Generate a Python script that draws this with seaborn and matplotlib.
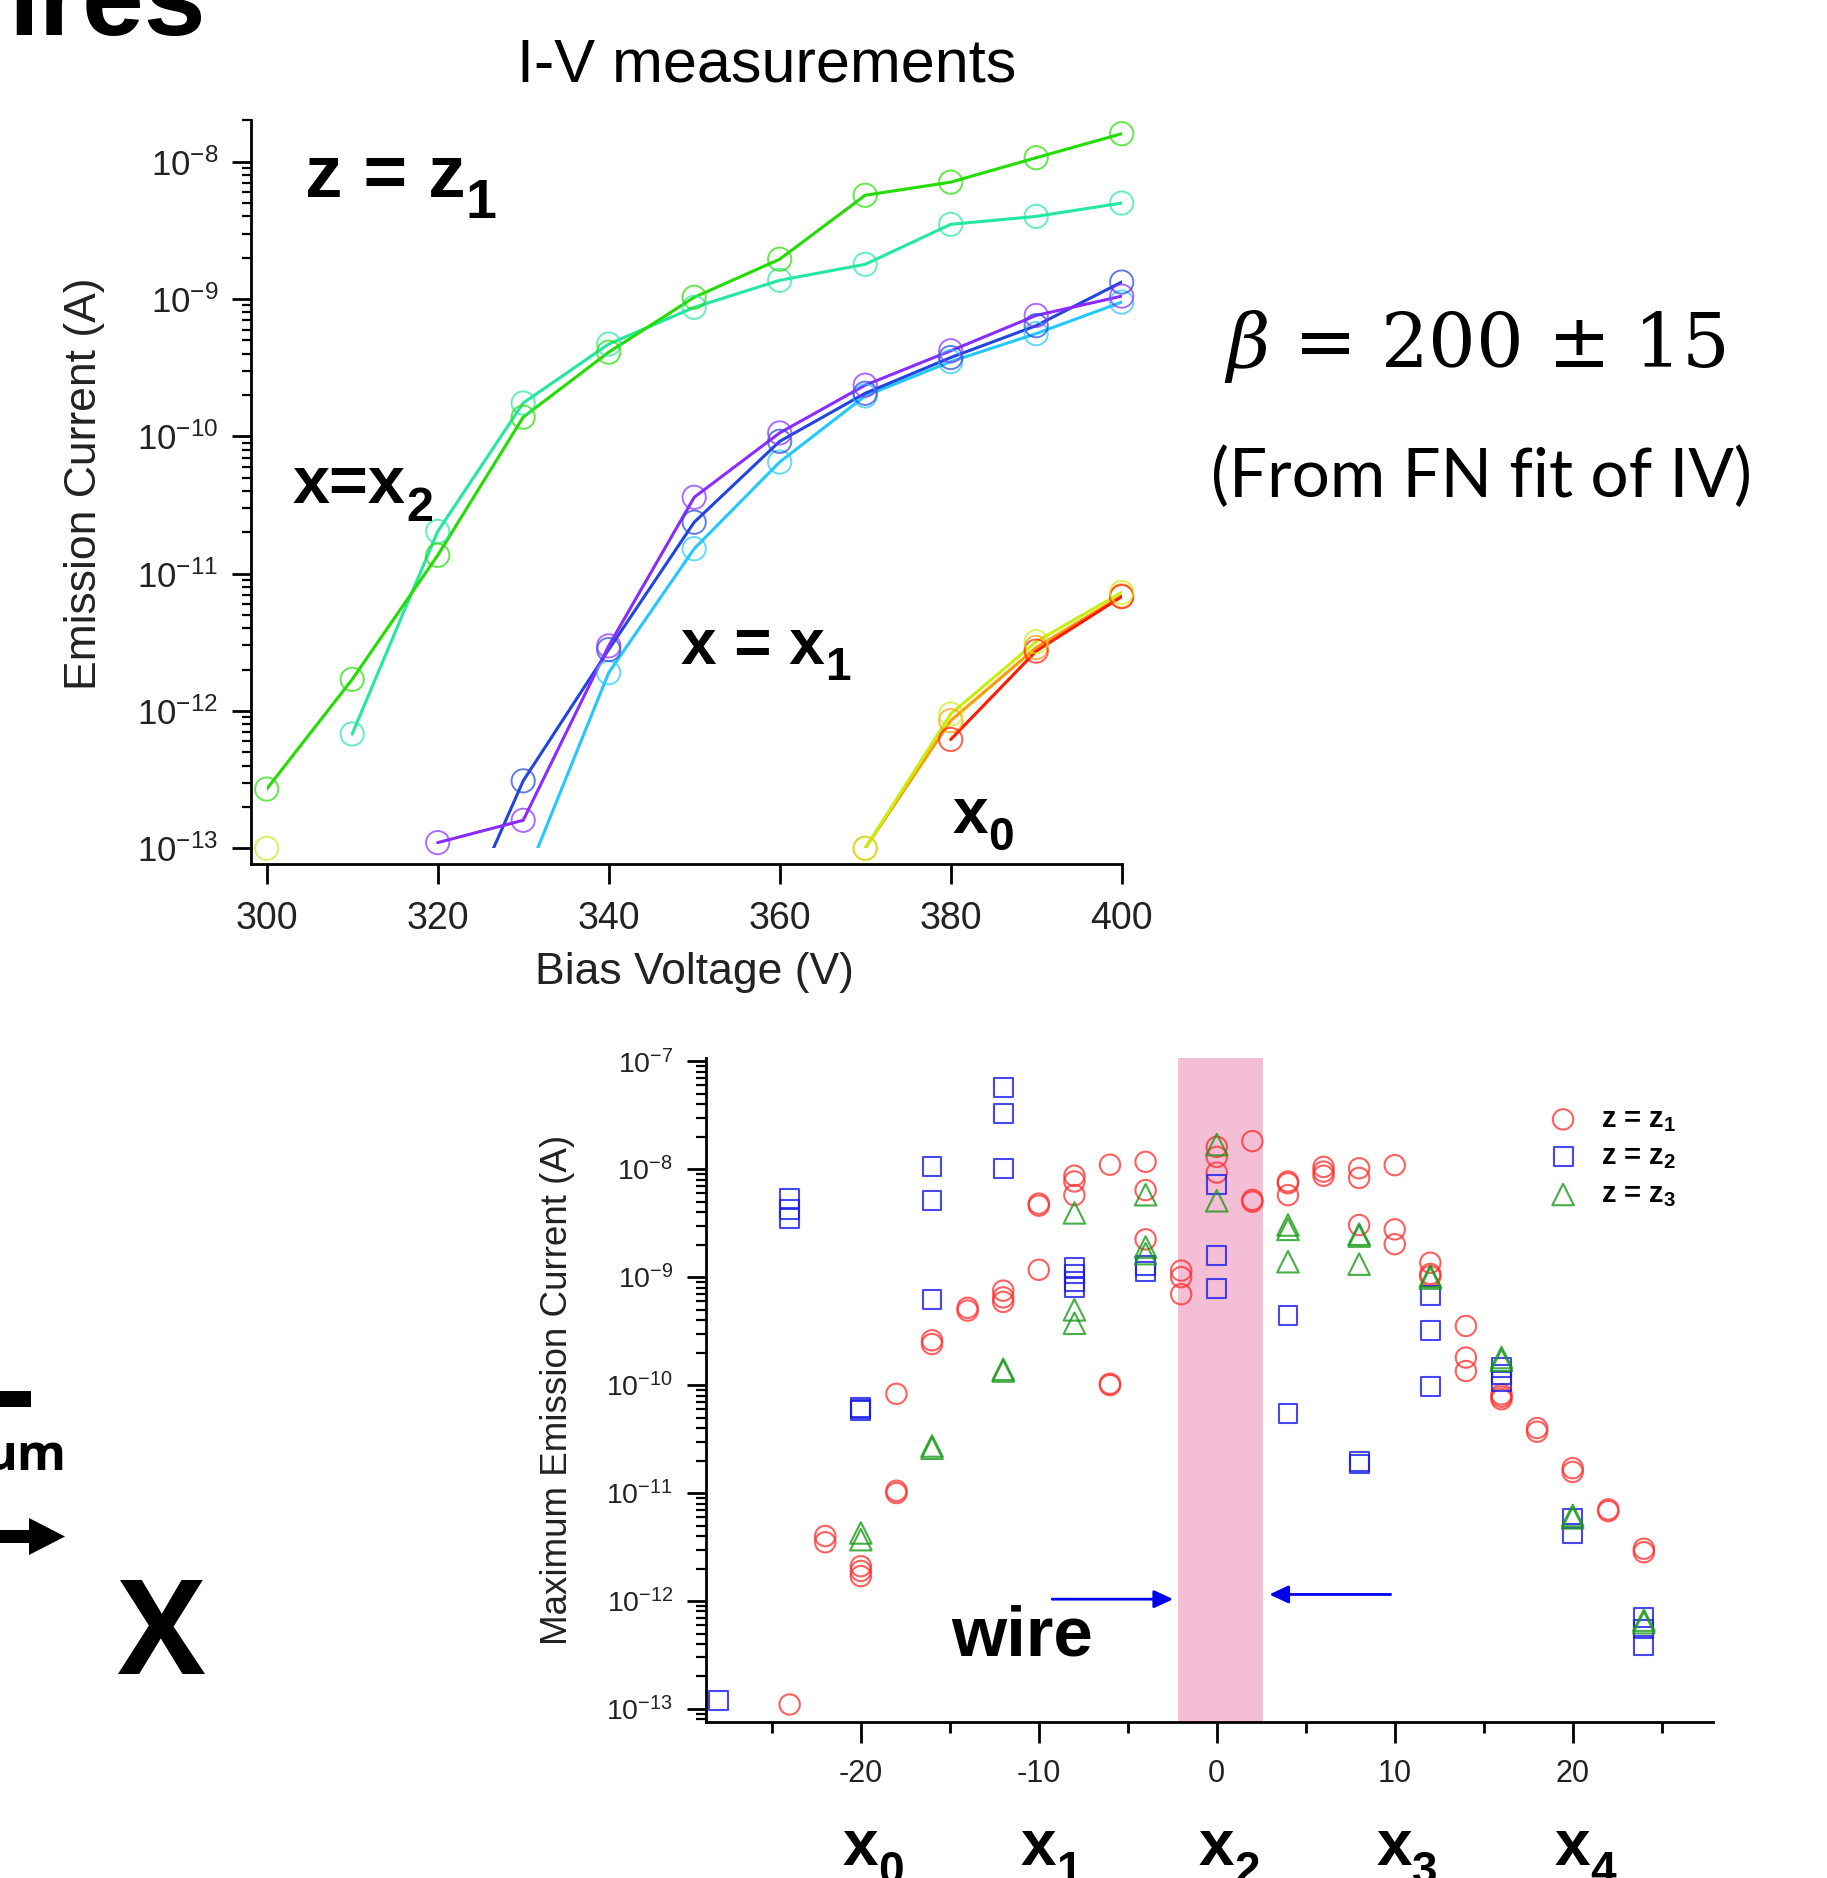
import numpy as np
import pandas as pd
import matplotlib.pyplot as plt
import seaborn as sns
from matplotlib.ticker import FixedLocator, LogLocator, MultipleLocator, FuncFormatter, NullFormatter
from matplotlib.patches import Rectangle, FancyArrow
from matplotlib.text import Annotation
from matplotlib.transforms import blended_transform_factory

# ---------------- top panel: I-V measurements ----------------
bias_v = [300, 310, 320, 330, 340, 350, 360, 370, 380, 390, 400]
nan = np.nan
iv_green = [2.7e-13, 1.7e-12, 1.36e-11, 1.38e-10, 4.1e-10, 1.03e-9, 1.95e-9, 5.7e-9, 7.1e-9, 1.07e-8, 1.6e-8]
iv_teal = [nan, 6.8e-13, 2.03e-11, 1.75e-10, 4.7e-10, 8.7e-10, 1.37e-9, 1.79e-9, 3.5e-9, 4.0e-9, 5.0e-9]
iv_cyan = [nan, nan, nan, 5.5e-14, 1.9e-12, 1.52e-11, 6.5e-11, 1.97e-10, 3.5e-10, 5.6e-10, 9.5e-10]
iv_blue = [nan, nan, 1.2e-14, 3.1e-13, 2.8e-12, 2.37e-11, 9.2e-11, 2.06e-10, 3.75e-10, 6.4e-10, 1.33e-9]
iv_purple = [nan, nan, 1.1e-13, 1.6e-13, 2.98e-12, 3.6e-11, 1.06e-10, 2.36e-10, 4.2e-10, 7.6e-10, 1.05e-9]
iv_orange = [nan, nan, nan, nan, nan, nan, nan, 1.0e-13, 8.5e-13, 2.9e-12, 6.9e-12]
iv_red = [nan, nan, nan, nan, nan, nan, nan, nan, 6.2e-13, 2.73e-12, 6.8e-12]
iv_yellow = [nan, nan, nan, nan, nan, nan, nan, 1.0e-13, 9.5e-13, 3.2e-12, 7.3e-12]
iv_lone_v = [300]
iv_lone_i = [1.0e-13]

iv_colors = {
    "green": "#22dd00", "teal": "#22e8a0", "cyan": "#22c8ff", "blue": "#2244e0",
    "purple": "#8a2cff", "orange": "#ff9a00", "red": "#ff1a00", "yellow": "#c8ee10",
}
iv_series = [("teal", iv_teal), ("green", iv_green), ("cyan", iv_cyan), ("blue", iv_blue),
             ("purple", iv_purple), ("orange", iv_orange), ("red", iv_red), ("yellow", iv_yellow)]

# ---------------- bottom panel: max emission current vs position ----------------
z1_pos = [-24, -22, -22, -20, -20, -20, -18, -18, -18, -16, -16, -14, -14, -12, -12, -12,
          -10, -10, -10, -8, -8, -8, -6, -6, -6, -4, -4, -4, -2, -2, -2, 0, 0, 0,
          2, 2, 2, 4, 4, 4, 6, 6, 6, 8, 8, 8, 10, 10, 10, 12, 12, 12, 14, 14, 14,
          16, 16, 16, 18, 18, 20, 20, 22, 22, 24, 24]
z1_cur = [1.1e-13, 4.0e-12, 3.5e-12, 2.1e-12, 1.9e-12, 1.7e-12, 8.3e-11, 1.05e-11, 1.0e-11,
          2.6e-10, 2.4e-10, 5.2e-10, 4.9e-10, 7.5e-10, 6.5e-10, 5.9e-10,
          4.8e-9, 4.6e-9, 1.17e-9, 8.7e-9, 7.7e-9, 5.75e-9, 1.1e-8, 1.03e-10, 1.0e-10,
          1.17e-8, 6.4e-9, 2.24e-9, 1.15e-9, 1.0e-9, 6.95e-10, 1.61e-8, 1.3e-8, 9.3e-9,
          1.82e-8, 5.2e-9, 5.0e-9, 7.7e-9, 7.4e-9, 5.75e-9, 1.05e-8, 9.5e-9, 8.7e-9,
          1.02e-8, 8.3e-9, 3.04e-9, 1.09e-8, 2.77e-9, 2.02e-9, 1.36e-9, 1.07e-9, 1.02e-9,
          3.53e-10, 1.8e-10, 1.35e-10, 8.2e-11, 7.8e-11, 7.4e-11, 4.0e-11, 3.7e-11,
          1.7e-11, 1.57e-11, 7.06e-12, 6.8e-12, 3.05e-12, 2.83e-12]

z2_pos = [-28, -24, -24, -24, -20, -20, -20, -16, -16, -16, -12, -12, -12,
          -8, -8, -8, -8, -4, -4, 0, 0, 0, 4, 4, 8, 8, 12, 12, 12,
          16, 16, 16, 20, 20, 24, 24, 24]
z2_cur = [1.2e-13, 5.4e-9, 4.2e-9, 3.5e-9, 6.2e-11, 6.0e-11, 5.8e-11, 1.05e-8, 5.1e-9, 6.2e-10,
          5.7e-8, 3.3e-8, 1.02e-8, 1.23e-9, 1.07e-9, 9.2e-10, 8.0e-10, 1.29e-9, 1.12e-9,
          7.2e-9, 1.6e-9, 7.9e-10, 4.4e-10, 5.5e-11, 1.95e-11, 1.86e-11,
          6.8e-10, 3.2e-10, 9.7e-11, 1.45e-10, 1.25e-10, 1.09e-10, 5.8e-12, 4.26e-12,
          7.0e-13, 5.5e-13, 3.9e-13]

z3_pos = [-20, -20, -16, -16, -12, -12, -8, -8, -8, -4, -4, -4, 0, 0,
          4, 4, 4, 8, 8, 8, 12, 12, 16, 16, 20, 20, 24, 24]
z3_cur = [4.27e-12, 3.7e-12, 2.73e-11, 2.6e-11, 1.4e-10, 1.35e-10, 3.94e-9, 4.98e-10, 3.74e-10,
          5.8e-9, 1.9e-9, 1.65e-9, 1.69e-8, 5.1e-9, 3.04e-9, 2.77e-9, 1.39e-9,
          2.5e-9, 2.4e-9, 1.32e-9, 1.02e-9, 9.8e-10, 1.8e-10, 1.7e-10, 6.2e-12, 5.9e-12,
          6.65e-13, 6.3e-13]

pos_ticks = [-20, -10, 0, 10, 20]
pos_subs = ["0", "1", "2", "3", "4"]
wire_span = (-2.2, 2.6)

W, H = 1827, 1878


def fx(px):
    return px / W


def fy(py):
    return 1 - py / H


def decade_fmt(v, _):
    return f"$10^{{{int(round(np.log10(v)))}}}$"


def bold_sub(x, y, main, sub, size, sub_size, drop, transform=None):
    # main bold text plus a bigger, lower subscript hung off its bottom-right corner
    t = fig.text(x, y, main, fontsize=size, weight="bold", va="baseline",
                 transform=transform if transform is not None else fig.transFigure)
    a = Annotation(sub, xy=(1, 0), xycoords=t, xytext=(0, -drop), textcoords="offset points",
                   fontsize=sub_size, weight="bold", va="baseline", ha="left")
    fig.add_artist(a)


sns.set_style("ticks")
plt.rcParams["font.family"] = ["Liberation Sans", "DejaVu Sans"]
plt.rcParams["mathtext.default"] = "regular"
plt.rcParams["mathtext.fontset"] = "custom"
plt.rcParams["mathtext.it"] = "DejaVu Serif:italic"
plt.rcParams["axes.linewidth"] = 2.0
plt.rcParams["axes.unicode_minus"] = False
for key in ["text.color", "axes.labelcolor", "axes.edgecolor", "xtick.color", "ytick.color"]:
    plt.rcParams[key] = "black"

fig = plt.figure(figsize=(W / 100, H / 100), dpi=100)

# ---------------- top axes ----------------
ax = fig.add_axes([fx(266.7), fy(848.3), (1121.7 - 266.7) / W, (848.3 - 120) / H])
ax.set_yscale("log")
for name, vals in iv_series:
    c = iv_colors[name]
    sns.lineplot(x=bias_v, y=vals, ax=ax, color=c, lw=2.2, estimator=None, sort=False, zorder=2)
    keep = [(v, i) for v, i in zip(bias_v, vals) if not np.isnan(i) and i >= 0.9e-13]
    sns.scatterplot(x=[k[0] for k in keep], y=[k[1] for k in keep], ax=ax, marker="o", s=280,
                    facecolor="none", edgecolor=c, linewidth=1.4, alpha=0.7, clip_on=False, zorder=3)
sns.scatterplot(x=iv_lone_v, y=iv_lone_i, ax=ax, marker="o", s=280, facecolor="none",
                edgecolor="#c8f040", linewidth=1.4, alpha=0.8, clip_on=False, zorder=3)

ax.set_xlim(300, 400)
ax.set_ylim(1e-13, 10 ** -7.696)
sns.despine(ax=ax)
ax.spines["left"].set_position(("outward", 11.3))
ax.spines["bottom"].set_position(("outward", 11.5))
ax.spines["bottom"].set_bounds(298.16, 400)
ax.spines["left"].set_bounds(10 ** -13.1165, 10 ** -7.696)
ax.xaxis.set_major_locator(MultipleLocator(20))
ax.yaxis.set_major_locator(FixedLocator([1e-13, 1e-12, 1e-11, 1e-10, 1e-9, 1e-8]))
ax.yaxis.set_minor_locator(LogLocator(base=10, subs=np.arange(2, 10), numticks=50))
ax.yaxis.set_major_formatter(FuncFormatter(decade_fmt))
ax.yaxis.set_minor_formatter(NullFormatter())
ax.tick_params(axis="y", which="major", direction="out", length=13.7, width=2, labelsize=25,
               pad=10, labelcolor="#222222")
ax.tick_params(axis="y", which="minor", direction="out", length=6.5, width=1.6)
ax.tick_params(axis="x", which="major", direction="out", length=14.4, width=2, labelsize=27,
               pad=12, labelcolor="#222222")
ax.set_xlabel("Bias Voltage (V)", fontsize=32, color="#222222")
ax.set_ylabel("Emission Current (A)", fontsize=32, color="#222222")
ax.xaxis.set_label_coords(0.5, -0.143)
ax.yaxis.set_label_coords(-0.189, 0.5)

fig.text(fx(767), fy(66), "I-V measurements", fontsize=44, ha="center", va="center")
bold_sub(fx(305), fy(197), "z = z", "1", 54, 40, 4.3)
bold_sub(fx(293), fy(503), "x=x", "2", 48, 35, 3.0)
bold_sub(fx(681), fy(664), "x = x", "1", 46, 33, 2.0)
bold_sub(fx(953), fy(833), "x", "0", 46, 33, 3.2)

fig.text(fx(1224), fy(367), r"$\mathit{\beta}$ = 200 ± 15", fontsize=54, family="DejaVu Serif",
         va="baseline")
fig.text(fx(1211), fy(497), "(From FN fit of IV)", fontsize=48.5, family="Lato", va="baseline")

# cut-off slide text at the edges
fig.text(fx(8), fy(35), "ires", fontsize=80, weight="bold", va="baseline")
fig.patches.append(Rectangle((0, fy(1407)), fx(31), fy(1391) - fy(1407), transform=fig.transFigure,
                             facecolor="black", edgecolor="none"))
fig.text(fx(66), fy(1470), "um", fontsize=36, family="Open Sans", weight="bold", ha="right",
         va="baseline")
fig.patches.append(FancyArrow(fx(-5), fy(1536.5), fx(70), 0,
                              width=13 / H, head_width=37 / H, head_length=fx(36),
                              length_includes_head=True, transform=fig.transFigure,
                              facecolor="black", edgecolor="none"))
fig.text(fx(161), fy(1640), "X", fontsize=94, family="Open Sans", weight="bold", ha="center",
         va="center")

# ---------------- bottom axes ----------------
ax2 = fig.add_axes([fx(706.2), fy(1721.7), (1713.3 - 706.2) / W, (1721.7 - 1058) / H])
ax2.set_yscale("log")
ax2.axvspan(*wire_span, color="#f4bed5", lw=0, zorder=0)
sns.scatterplot(x=z1_pos, y=z1_cur, ax=ax2, marker="o", s=215, facecolor="none",
                edgecolor="#ff2a2a", linewidth=1.5, alpha=0.75, label="z = z$_1$", zorder=3)
sns.scatterplot(x=z2_pos, y=z2_cur, ax=ax2, marker="s", s=185, facecolor="none",
                edgecolor="#1a1aee", linewidth=1.5, alpha=0.8, label="z = z$_2$", zorder=3)
sns.scatterplot(x=z3_pos, y=z3_cur, ax=ax2, marker="^", s=240, facecolor="none",
                edgecolor="#1a9a1a", linewidth=1.5, alpha=0.8, label="z = z$_3$", zorder=3)

ax2.set_xlim(-28.69, 27.9)
ax2.set_ylim(10 ** -13.118, 10 ** -6.97)
sns.despine(ax=ax2)
ax2.xaxis.set_major_locator(FixedLocator(pos_ticks))
ax2.xaxis.set_minor_locator(MultipleLocator(5))
ax2.yaxis.set_major_locator(FixedLocator([1e-13, 1e-12, 1e-11, 1e-10, 1e-9, 1e-8, 1e-7]))
ax2.yaxis.set_minor_locator(LogLocator(base=10, subs=np.arange(2, 10), numticks=50))
ax2.yaxis.set_major_formatter(FuncFormatter(decade_fmt))
ax2.yaxis.set_minor_formatter(NullFormatter())
ax2.tick_params(axis="y", which="major", direction="out", length=13.7, width=2, labelsize=20.5,
                pad=10, labelcolor="#222222")
ax2.tick_params(axis="y", which="minor", direction="out", length=7, width=1.6)
ax2.tick_params(axis="x", which="major", direction="out", length=15, width=2, labelsize=22,
                pad=12, labelcolor="#222222")
ax2.tick_params(axis="x", which="minor", direction="out", length=8, width=2)
ax2.set_xlabel("")
ax2.set_ylabel("Maximum Emission Current (A)", fontsize=26.5, color="#222222")
ax2.yaxis.set_label_coords(-0.130, 0.5)

ax2.legend(loc="center left", bbox_to_anchor=(fx(1548.5), fy(1157)), bbox_transform=fig.transFigure,
           frameon=False, prop={"weight": "bold", "size": 21}, handlelength=1.0, handletextpad=0.8,
           labelspacing=0.3, borderpad=0, borderaxespad=0, scatterpoints=1)

arrow_kw = dict(arrowstyle="-|>,head_length=0.58,head_width=0.27", color="#0000ee", lw=2,
                shrinkA=0, shrinkB=0, mutation_scale=20)
ax2.annotate("", xy=(-2.45, 1.04e-12), xytext=(-9.25, 1.04e-12), arrowprops=arrow_kw)
ax2.annotate("", xy=(2.95, 1.15e-12), xytext=(9.77, 1.15e-12), arrowprops=arrow_kw)
fig.text(fx(951), fy(1656), "wire", fontsize=51, weight="bold", va="baseline")

lab_tr = blended_transform_factory(ax2.transData, fig.transFigure)
for p, s in zip(pos_ticks, pos_subs):
    bold_sub(p - 1.0, fy(1865), "x", s, 46, 33, 4.0, transform=lab_tr)

fig.savefig("out.png", dpi=100)
plt.close(fig)
